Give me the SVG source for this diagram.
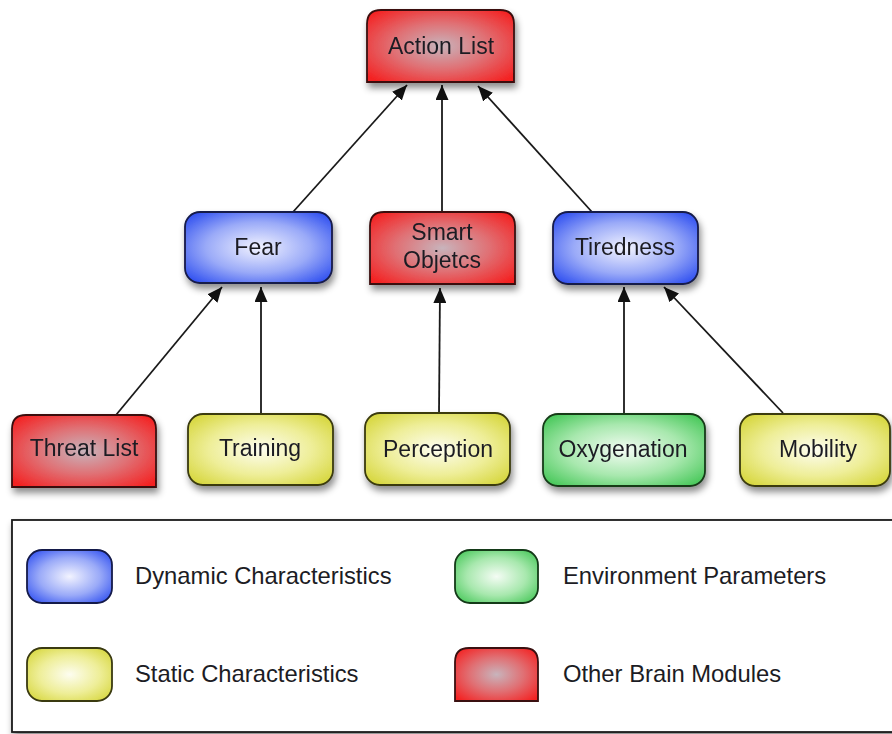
<svg xmlns="http://www.w3.org/2000/svg" width="892" height="734" viewBox="0 0 892 734">
  <style>
    .lbl { font-family: "Liberation Sans", Arial, sans-serif; font-size: 23px; fill: #1c1c24; text-anchor: middle; }
    .leg { font-family: "Liberation Sans", Arial, sans-serif; font-size: 23.8px; fill: #1c1c24; }
    .edge { stroke: #1a1a1a; stroke-width: 1.8; fill: none; marker-end: url(#arrow); }
    .blue { fill: url(#gBlue); stroke: #141a4a; stroke-width: 1.8; }
    .red { fill: url(#gRed); stroke: #3a1010; stroke-width: 1.8; }
    .yellow { fill: url(#gYellow); stroke: #3a3a10; stroke-width: 1.8; }
    .green { fill: url(#gGreen); stroke: #143a18; stroke-width: 1.8; }
    .node { filter: url(#shadow); }
  </style>
  <defs>
    <radialGradient id="gBlue" cx="50%" cy="50%" r="65%">
      <stop offset="0" stop-color="#f2f3ff"/>
      <stop offset="0.55" stop-color="#9aaaf8"/>
      <stop offset="1" stop-color="#3050f0"/>
    </radialGradient>
    <radialGradient id="gRed" cx="50%" cy="50%" r="65%">
      <stop offset="0" stop-color="#c8b4bc"/>
      <stop offset="0.5" stop-color="#e07074"/>
      <stop offset="1" stop-color="#f42222"/>
    </radialGradient>
    <radialGradient id="gYellow" cx="50%" cy="50%" r="65%">
      <stop offset="0" stop-color="#fdfdf0"/>
      <stop offset="0.55" stop-color="#eeee98"/>
      <stop offset="1" stop-color="#d6d63c"/>
    </radialGradient>
    <radialGradient id="gGreen" cx="50%" cy="50%" r="65%">
      <stop offset="0" stop-color="#f4fcf4"/>
      <stop offset="0.55" stop-color="#a8e8ae"/>
      <stop offset="1" stop-color="#48c85a"/>
    </radialGradient>
    <filter id="shadow" x="-20%" y="-20%" width="140%" height="150%">
      <feDropShadow dx="2" dy="5" stdDeviation="3.5" flood-color="#000" flood-opacity="0.45"/>
    </filter>
    <marker id="arrow" markerUnits="userSpaceOnUse" markerWidth="17" markerHeight="13" refX="15" refY="6.5" orient="auto">
      <path d="M0,0 L15,6.5 L0,13 z" fill="#111"/>
    </marker>
  </defs>

  <rect width="892" height="734" fill="#ffffff"/>

  <!-- connectors -->
  <g id="connectors">
    <line class="edge" x1="293" y1="212" x2="407" y2="85"/>
    <line class="edge" x1="442" y1="212" x2="442" y2="85"/>
    <line class="edge" x1="592" y1="212" x2="478" y2="86"/>
    <line class="edge" x1="116" y1="415" x2="222" y2="287"/>
    <line class="edge" x1="261" y1="414" x2="261" y2="287"/>
    <line class="edge" x1="439" y1="413" x2="440" y2="288"/>
    <line class="edge" x1="624" y1="414" x2="624" y2="287"/>
    <line class="edge" x1="783" y1="413" x2="664" y2="287"/>
  </g>

  <!-- top level -->
  <g id="action-list" class="node">
    <path class="red" d="M367,82 V24 Q367,10 381,10 H500 Q514,10 514,24 V82 Z"/>
    <text class="lbl" x="441" y="54">Action List</text>
  </g>

  <!-- middle level -->
  <g id="fear" class="node">
    <rect class="blue" x="185" y="212" width="147" height="71" rx="15"/>
    <text class="lbl" x="258" y="255">Fear</text>
  </g>
  <g id="smart-objects" class="node">
    <path class="red" d="M370,284 V226 Q370,212 384,212 H501 Q515,212 515,226 V284 Z"/>
    <text class="lbl" x="442" y="240">Smart</text>
    <text class="lbl" x="442" y="268">Objetcs</text>
  </g>
  <g id="tiredness" class="node">
    <rect class="blue" x="553" y="212" width="145" height="72" rx="15"/>
    <text class="lbl" x="625" y="255">Tiredness</text>
  </g>

  <!-- bottom level -->
  <g id="threat-list" class="node">
    <path class="red" d="M12,487 V429 Q12,415 26,415 H142 Q156,415 156,429 V487 Z"/>
    <text class="lbl" x="84" y="456">Threat List</text>
  </g>
  <g id="training" class="node">
    <rect class="yellow" x="188" y="414" width="145" height="71" rx="15"/>
    <text class="lbl" x="260" y="456">Training</text>
  </g>
  <g id="perception" class="node">
    <rect class="yellow" x="365" y="413" width="145" height="72" rx="15"/>
    <text class="lbl" x="438" y="457">Perception</text>
  </g>
  <g id="oxygenation" class="node">
    <rect class="green" x="543" y="414" width="162" height="72" rx="15"/>
    <text class="lbl" x="623" y="457">Oxygenation</text>
  </g>
  <g id="mobility" class="node">
    <rect class="yellow" x="740" y="414" width="150" height="72" rx="15"/>
    <text class="lbl" x="818" y="457">Mobility</text>
  </g>

  <!-- legend -->
  <g id="legend">
    <rect x="12" y="520" width="900" height="212" fill="#ffffff" stroke="#1a1a1a" stroke-width="1.8" filter="url(#shadow)"/>
    <g id="legend-dynamic">
      <rect class="blue" x="27" y="550" width="85" height="53" rx="15"/>
      <text class="leg" x="135" y="584">Dynamic Characteristics</text>
    </g>
    <g id="legend-static">
      <rect class="yellow" x="27" y="648" width="85" height="53" rx="15"/>
      <text class="leg" x="135" y="682">Static Characteristics</text>
    </g>
    <g id="legend-environment">
      <rect class="green" x="455" y="550" width="83" height="53" rx="15"/>
      <text class="leg" x="563" y="584">Environment Parameters</text>
    </g>
    <g id="legend-modules">
      <path class="red" d="M455,701 V662 Q455,648 469,648 H524 Q538,648 538,662 V701 Z"/>
      <text class="leg" x="563" y="682">Other Brain Modules</text>
    </g>
  </g>
</svg>
